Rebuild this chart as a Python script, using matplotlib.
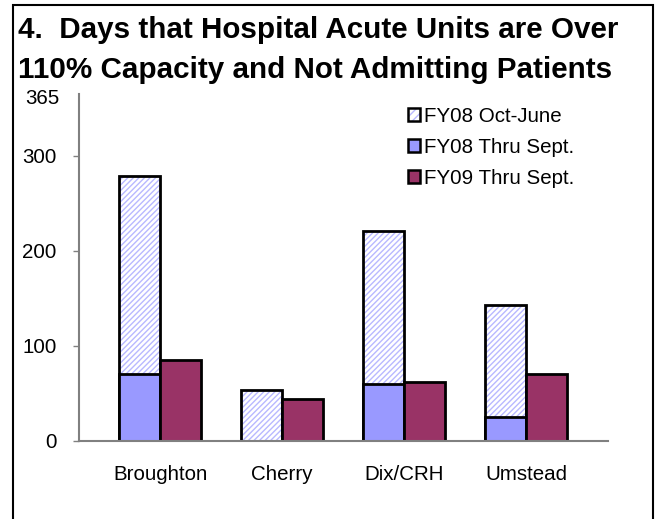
import matplotlib.pyplot as plt
import numpy as np
from matplotlib.patches import Rectangle, Patch
from matplotlib.legend_handler import HandlerTuple
from matplotlib import transforms

plt.rcParams['font.family'] = ['Liberation Sans', 'DejaVu Sans']

# data
units = ['Broughton', 'Cherry', 'Dix/CRH', 'Umstead']
fy08_oct_june = [279, 54, 221, 143]
fy08_thru_sept = [70, 0, 60, 25]
fy09_thru_sept = [85, 44, 62, 71]
yticks = [0, 100, 200, 300, 365]

blue = '#9999FF'
maroon = '#993366'
hatch_blue = '#B8B8FF'

fig = plt.figure(figsize=(6.62, 5.19), dpi=100)
ax = fig.add_axes([79/662, 1-441/519, (608-79)/662, (441-94)/519])

x = np.arange(len(units))
w = 0.336

# hatched FY08 Oct-June (full height), then blue FY08 thru Sept on top of it
plt.rcParams['hatch.linewidth'] = 1.0
ax.bar(x - w/2, fy08_oct_june, w, color='white', edgecolor=hatch_blue,
       hatch='//////', linewidth=0, zorder=2)
ax.bar(x - w/2, fy08_oct_june, w, fill=False, edgecolor='black',
       linewidth=2, zorder=3)
ax.bar(x - w/2, fy08_thru_sept, w, color=blue, edgecolor='black',
       linewidth=2, zorder=4)
ax.bar(x + w/2, fy09_thru_sept, w, color=maroon, edgecolor='black',
       linewidth=2, zorder=4)

ax.set_xlim(-0.665, 3.67)
ax.set_ylim(0, 365)
ax.set_xticks(x)
ax.set_xticklabels(units, fontsize=14.8)
ax.tick_params(axis='x', length=0, pad=17.5)
ax.set_yticks(yticks)
ax.set_yticklabels([str(t) for t in yticks], fontsize=14.8)
ax.tick_params(axis='y', length=4.5, width=1, color='#808080', pad=11.5)

# the 365 label sits at the top without a tick mark, nudged a bit
ax.yaxis.get_major_ticks()[-1].tick1line.set_visible(False)
lbl = ax.get_yticklabels()[-1]
lbl.set_transform(lbl.get_transform() + transforms.ScaledTranslation(3/100, -3/100, fig.dpi_scale_trans))

for s in ['top', 'right']:
    ax.spines[s].set_visible(False)
for s in ['left', 'bottom']:
    ax.spines[s].set_color('#808080')
    ax.spines[s].set_linewidth(1.5)
    ax.spines[s].set_zorder(5)

handles = [
    (Patch(facecolor='white', edgecolor=hatch_blue, hatch='////', linewidth=0),
     Patch(fill=False, edgecolor='black', linewidth=1.8)),
    Patch(facecolor=blue, edgecolor='black', linewidth=1.8),
    Patch(facecolor=maroon, edgecolor='black', linewidth=1.8),
]
labels = ['FY08 Oct-June', 'FY08 Thru Sept.', 'FY09 Thru Sept.']
ax.legend(handles, labels, loc='upper left', bbox_to_anchor=(408/662, 1-107/519),
          bbox_transform=fig.transFigure, frameon=False, fontsize=14.8,
          handlelength=0.6, handleheight=0.6, handletextpad=0.2,
          labelspacing=0.58, borderpad=0, borderaxespad=0,
          handler_map={tuple: HandlerTuple(ndivide=1)})

fig.text(18/662, 1-30/519, '4.  Days that Hospital Acute Units are Over',
         fontsize=21.3, fontweight='bold', va='center', ha='left')
fig.text(18/662, 1-70/519, '110% Capacity and Not Admitting Patients',
         fontsize=21.3, fontweight='bold', va='center', ha='left')

fig.patches.append(Rectangle((13/662, -0.05), (653-13)/662, 1.05 - 5/519,
                             transform=fig.transFigure, fill=False,
                             edgecolor='black', linewidth=1.5))

fig.savefig('out.png', dpi=100)
